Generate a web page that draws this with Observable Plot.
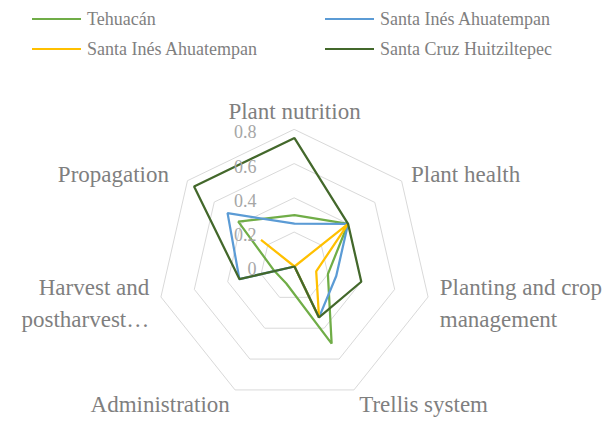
<!DOCTYPE html>
<html><head><meta charset="utf-8">
<script src="https://cdn.jsdelivr.net/npm/d3@7"></script>
<script src="https://cdn.jsdelivr.net/npm/@observablehq/plot@0.6"></script>
<style>
body{margin:0;background:#fff;}
#wrap{position:relative;width:613px;height:421px;overflow:hidden;font-family:'Liberation Serif','DejaVu Serif','Times New Roman',serif;}
#chart{position:absolute;left:0;top:0;}
#legend{position:absolute;left:0;top:0;width:613px;height:70px;}
.item{position:absolute;height:24px;display:flex;align-items:center;font-size:18px;color:#7f7f7f;white-space:nowrap;}
.sw{width:49px;height:2.5px;margin-right:6px;}
</style></head>
<body><div id="wrap"><div id="chart"></div><div id="legend"></div></div>
<script>
const categories = ["Plant nutrition", "Plant health", "Planting and crop\nmanagement", "Trellis system", "Administration", "Harvest and\npostharvest…", "Propagation"];
const seriesKeys = ["tehuacan", "santaInes1", "santaInes2", "santaCruz"];
const seriesNames = ["Tehuacán", "Santa Inés Ahuatempan", "Santa Inés Ahuatempan", "Santa Cruz Huitziltepec"];
const seriesColors = ["#70AD47", "#5B9BD5", "#FFC000", "#43682B"];
const tehuacan   = [0.30, 0.40, 0.20, 0.50, 0.11, 0.12, 0.42];
const santaInes1 = [0.25, 0.40, 0.25, 0.33, 0.00, 0.33, 0.50];
const santaInes2 = [0.00, 0.40, 0.13, 0.33, 0.00, 0.00, 0.25];
const santaCruz  = [0.75, 0.40, 0.40, 0.33, 0.00, 0.33, 0.75];
const tickValues = [0, 0.2, 0.4, 0.6, 0.8];
const tickLabels = ["0", "0.2", "0.4", "0.6", "0.8"];

const serif = "'Liberation Serif', 'DejaVu Serif', 'Times New Roman', serif";
const seriesValues = [tehuacan, santaInes1, santaInes2, santaCruz];
const n = categories.length;
const ang = i => i * 2 * Math.PI / n;

const dataRows = [];
seriesKeys.forEach((k, s) => {
  seriesValues[s].forEach((v, i) => {
    dataRows.push({key: k, x: v * Math.sin(ang(i)), y: v * Math.cos(ang(i))});
  });
});

const gridRows = [];
tickValues.filter(t => t > 0).forEach(t => {
  categories.forEach((c, i) => gridRows.push({ring: t, x: t * Math.sin(ang(i)), y: t * Math.cos(ang(i))}));
});

const tickRows = tickValues.map((t, i) => ({x: 0, y: t, label: tickLabels[i]}));

const maxV = tickValues[tickValues.length - 1];
const labelRows = categories.map((c, i) => {
  const a = ang(i), s = Math.sin(a), co = Math.cos(a);
  const r = maxV * 1.0875;
  return {
    x: r * s, y: r * co, text: c,
    anchor: s > 0.1 ? "start" : s < -0.1 ? "end" : "middle",
    dx: (s < -0.5 && co > 0.5) ? -9 : 0,
    dy: co > 0 ? -9 * co * co * co : 1
  };
});

const labelMarks = labelRows.map(d => Plot.text([d], {
  x: "x", y: "y", text: "text", textAnchor: d.anchor, dx: d.dx, dy: d.dy,
  fill: "#7f7f7f", fontSize: 23, lineHeight: 1.42, fontFamily: serif
}));

const chart = Plot.plot({
  width: 613, height: 421,
  margin: 0,
  style: {fontFamily: serif, background: "transparent"},
  x: {domain: [-maxV, maxV], range: [157, 431], axis: null},
  y: {domain: [-maxV, maxV], range: [403, 129], axis: null},
  color: {domain: seriesKeys, range: seriesColors},
  marks: [
    Plot.line(gridRows, {x: "x", y: "y", z: "ring", curve: "linear-closed", stroke: "#d9d9d9", strokeWidth: 1}),
    Plot.line(dataRows, {x: "x", y: "y", z: "key", stroke: "key", curve: "linear-closed", strokeWidth: 2.25, strokeLinejoin: "miter"}),
    Plot.text(tickRows, {x: "x", y: "y", text: "label", textAnchor: "end", dx: -38, dy: 3, fill: "#a6a6a6", fontSize: 18, fontFamily: serif}),
    ...labelMarks
  ]
});
document.getElementById("chart").appendChild(chart);

const legend = document.getElementById("legend");
const legendPos = [[32, 7], [325, 7], [32, 37], [325, 37]];
seriesKeys.forEach((k, i) => {
  const it = document.createElement("div");
  it.className = "item";
  it.style.left = legendPos[i][0] + "px";
  it.style.top = legendPos[i][1] + "px";
  const sw = document.createElement("div");
  sw.className = "sw";
  sw.style.background = seriesColors[i];
  const tx = document.createElement("span");
  tx.textContent = seriesNames[i];
  it.appendChild(sw); it.appendChild(tx);
  legend.appendChild(it);
});
</script>
</body></html>
